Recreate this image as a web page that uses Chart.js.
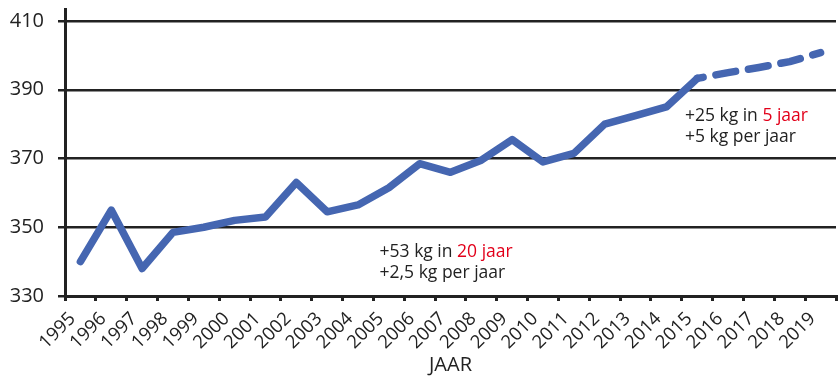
<!DOCTYPE html>
<html>
<head>
<meta charset="utf-8">
<script src="https://cdn.jsdelivr.net/npm/chart.js@4"></script>
<style>
  html, body { margin: 0; padding: 0; background: #fff; }
  #wrap { width: 838px; height: 377px; }
</style>
</head>
<body>
<div id="wrap"><canvas id="chart" width="838" height="377"></canvas></div>
<script>
// --- Datos ---
const jaren = ['1995','1996','1997','1998','1999','2000','2001','2002','2003','2004','2005','2006',
  '2007','2008','2009','2010','2011','2012','2013','2014','2015','2016','2017','2018','2019'];
const kgPerInwoner = [340, 355, 338, 348.5, 350, 352, 353, 363, 354.5, 356.5, 361.5, 368.5,
  366, 369.5, 375.5, 369, 371.5, 380, 382.5, 385, 393.3, 395, 396.5, 398.2, 400.8];
const yTicks = [330, 350, 370, 390, 410];
const notaLang = ['+53 kg in ', '20 jaar', '+2,5 kg per jaar'];
const notaKort = ['+25 kg in ', '5 jaar', '+5 kg per jaar'];
const eersteGeschat = 20; // vanaf 2015 gestippeld

const FONT = '"Open Sans", sans-serif';
const ZWART = '#222222';
const ROOD = '#e2001a';
const BLAUW = '#4566b1';

// --- Plugin voor de teksten in de grafiek ---
const notities = {
  id: 'notities',
  afterDatasetsDraw(chart) {
    const { ctx, scales } = chart;
    const x = scales.x, y = scales.y;
    function schrijf(nota, idx, val) {
      const px = x.getPixelForValue(idx);
      const py = y.getPixelForValue(val);
      ctx.save();
      ctx.font = '500 17.5px ' + FONT;
      ctx.textBaseline = 'middle';
      ctx.textAlign = 'left';
      ctx.fillStyle = ZWART;
      ctx.fillText(nota[0], px, py);
      const w = ctx.measureText(nota[0]).width;
      ctx.fillStyle = ROOD;
      ctx.fillText(nota[1], px + w, py);
      ctx.fillStyle = ZWART;
      ctx.fillText(nota[2], px, py + 21);
      ctx.restore();
    }
    schrijf(notaLang, 9.7, 342.8);
    schrijf(notaKort, 19.6, 382.3);
  }
};

const ctx = document.getElementById('chart').getContext('2d');
new Chart(ctx, {
  type: 'line',
  data: {
    labels: jaren,
    datasets: [{
      data: kgPerInwoner,
      borderColor: BLAUW,
      borderWidth: 7.5,
      borderCapStyle: 'round',
      borderJoinStyle: 'round',
      pointRadius: 0,
      fill: false,
      tension: 0,
      segment: {
        borderDash: c => c.p0DataIndex >= eersteGeschat ? [20, 13] : undefined,
        borderDashOffset: c => c.p0DataIndex >= eersteGeschat ? 14 : 0
      }
    }]
  },
  options: {
    responsive: false,
    animation: false,
    layout: { padding: { top: 9, right: 2, left: 0, bottom: 0 } },
    plugins: { legend: { display: false }, tooltip: { enabled: false } },
    scales: {
      x: {
        offset: true,
        grid: { offset: true, drawOnChartArea: false, drawTicks: true, tickLength: 5, color: ZWART, lineWidth: 3 },
        border: { display: true, color: ZWART, width: 3 },
        ticks: { color: ZWART, font: { family: FONT, size: 18.5, weight: '500' }, minRotation: 45, maxRotation: 45, autoSkip: false, padding: 7, labelOffset: -8 },
        title: { display: true, text: 'JAAR', color: ZWART, font: { family: FONT, size: 20, weight: '500' }, padding: { top: 0, bottom: 0 } },
        afterFit(scale) { scale.height = 81; scale.paddingLeft = 0; scale.paddingRight = 0; }
      },
      y: {
        min: 330,
        max: 413.5,
        afterBuildTicks(scale) { scale.ticks = yTicks.map(v => ({ value: v })); },
        grid: { color: ZWART, lineWidth: 2.5, drawTicks: true, tickLength: 7 },
        border: { display: true, color: ZWART, width: 3 },
        ticks: { color: ZWART, font: { family: FONT, size: 20, weight: '500' }, padding: 14 },
        afterFit(scale) { scale.width = 65; scale.paddingTop = 0; scale.paddingBottom = 0; }
      }
    }
  },
  plugins: [notities]
});
</script>
</body>
</html>
